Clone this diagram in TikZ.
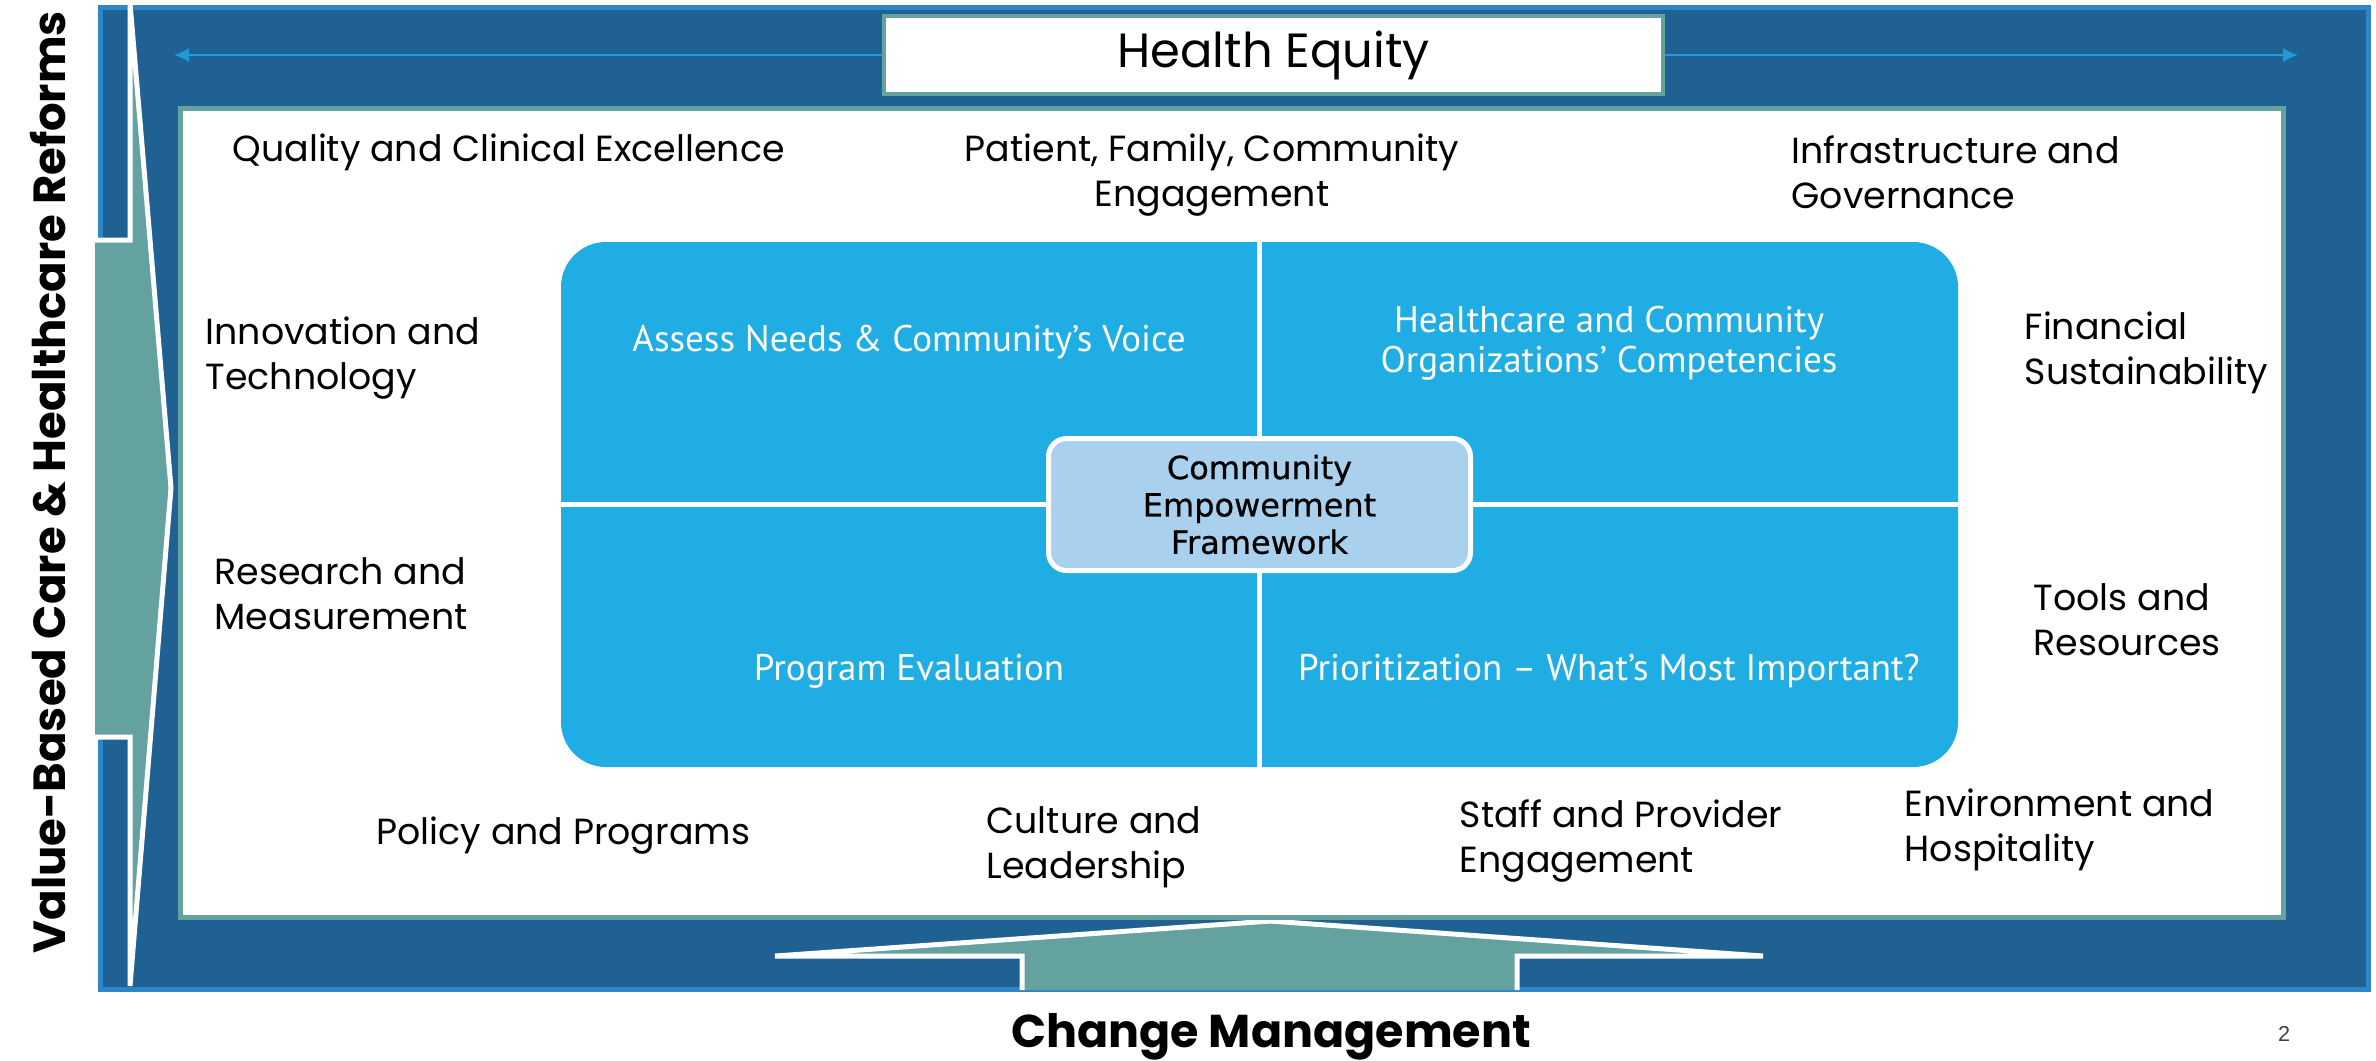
\documentclass[tikz,border=0pt]{standalone}
\usepackage{fontspec}
\newfontfamily\gothic{Poppins}
\newfontfamily\franklin{PT Sans}
\newfontfamily\tahomaish[FakeBold=0.6]{DejaVu Sans}
\newfontfamily\numfont{Liberation Sans}
\usetikzlibrary{arrows.meta}
\definecolor{framedark}{HTML}{1F6193}
\definecolor{framelight}{HTML}{2C86C8}
\definecolor{tealc}{HTML}{63A29E}
\definecolor{quadblue}{HTML}{1FADE3}
\definecolor{centerblue}{HTML}{A9D1EE}
\definecolor{linkblue}{HTML}{1E9BD7}
\begin{document}
\begin{tikzpicture}[x=0.3pt,y=-0.3pt,
  outer/.style={font=\gothic\fontsize{10.9}{13.4}\selectfont, inner sep=0, align=left, anchor=west, text=black},
  outerc/.style={outer, align=center, anchor=center},
  quadtext/.style={font=\franklin\fontsize{11.1}{12}\selectfont, inner sep=0, align=center, text=white},
  bigarrow/.style={fill=tealc, draw=none},
  arrowedge/.style={draw=white, line width=1.5pt, line join=miter},
  link/.style={draw=linkblue, line width=0.6pt, -{Latex[length=4.5pt,width=4.2pt]}},
  crossline/.style={draw=white, line width=1.5pt}
]
\useasboundingbox (0,0) rectangle (2376,1060);
\fill[white] (0,0) rectangle (2376,1060);

% outer frame
\node[draw=framelight, fill=framedark, line width=1.5pt, minimum width=2268pt*0.3, minimum height=982pt*0.3, inner sep=0, anchor=north west] (frame) at (97.5,4.5) {};

% bottom arrow (Change Management)
\fill[bigarrow] (1022,990) -- (1022,956) -- (775,956) -- (1270,921) -- (1763,956) -- (1517,956) -- (1517,990) -- cycle;
\draw[arrowedge] (1022,990) -- (1022,956) -- (775,956) -- (1270,921) -- (1763,956) -- (1517,956) -- (1517,990);

% left arrow (Value-Based Care)
\fill[bigarrow] (95,240) -- (130,240) -- (130,3) -- (171,488) -- (130,986) -- (130,737) -- (95,737) -- cycle;
\draw[arrowedge] (95,240) -- (130,240) -- (130,3) -- (171,488) -- (130,986) -- (130,737) -- (95,737);

% inner white panel
\node[draw=tealc, fill=white, line width=1.5pt, minimum width=2103pt*0.3, minimum height=809pt*0.3, inner sep=0, anchor=north west] (panel) at (177.5,105.5) {};

% Health Equity
\node[draw=tealc, fill=white, line width=1pt, minimum width=779pt*0.3, minimum height=78pt*0.3, inner sep=0, font=\gothic\fontsize{14.4}{16}\selectfont] (equity) at (1273.5,55) {\raisebox{-1.8pt}{Health Equity}};
\coordinate (leftend) at (174,55);
\coordinate (rightend) at (2298,55);
\draw[link] (equity.west |- leftend) -- (leftend);
\draw[link] (equity.east |- rightend) -- (rightend);

% central quadrant block
\node[fill=quadblue, rounded corners=13.5pt, minimum width=1397pt*0.3, minimum height=525pt*0.3, inner sep=0] (quad) at (1259.5,504.5) {};
\draw[crossline] (quad.north) -- (quad.south);
\draw[crossline] (quad.west) -- (quad.east);

\node[quadtext] (assess) at (909,342) {Assess Needs \& Community’s Voice};
\node[quadtext] (compet) at (1609,343) {Healthcare and Community\\Organizations’ Competencies};
\node[quadtext] (evalq) at (909,671) {Program Evaluation};
\node[quadtext] (prior) at (1609,671) {Prioritization – What’s Most Important?};

\node[draw=white, fill=centerblue, line width=1.5pt, rounded corners=5.4pt, minimum width=422pt*0.3, minimum height=132pt*0.3, inner sep=0, align=center, font=\tahomaish\fontsize{9.6}{11.2}\selectfont] (cef) at (1259.5,504.5) {Community\\Empowerment\\Framework};

% outer labels
\node[outer] (quality) at (232,152) {Quality and Clinical Excellence};
\node[outerc] (patient) at (1212,175) {Patient, Family, Community\\Engagement};
\node[outer] (infra) at (1791,172) {Infrastructure and\\Governance};
\node[outer] (innov) at (205,358) {Innovation and\\Technology};
\node[outer] (financial) at (2024,353) {Financial\\Sustainability};
\node[outer] (research) at (214,594) {Research and\\Measurement};
\node[outer] (tools) at (2033,620) {Tools and\\Resources};
\node[outer] (policy) at (376,836) {Policy and Programs};
\node[outer] (culture) at (986,847) {Culture and\\Leadership};
\node[outer] (staff) at (1459,841) {Staff and Provider\\Engagement};
\node[outer] (environ) at (1904,830) {Environment and\\Hospitality};

% side and bottom titles
\node[rotate=90, inner sep=0, font=\gothic\bfseries\fontsize{13.5}{16}\selectfont] (vbc) at (48,482) {Value-Based Care \& Healthcare Reforms};
\node[inner sep=0, font=\gothic\bfseries\fontsize{13.8}{16}\selectfont] (change) at (1271,1037) {Change Management};
\node[inner sep=0, text=black!75, font=\numfont\fontsize{6.5}{7.5}\selectfont] (pagenum) at (2284,1034) {2};
\end{tikzpicture}
\end{document}
